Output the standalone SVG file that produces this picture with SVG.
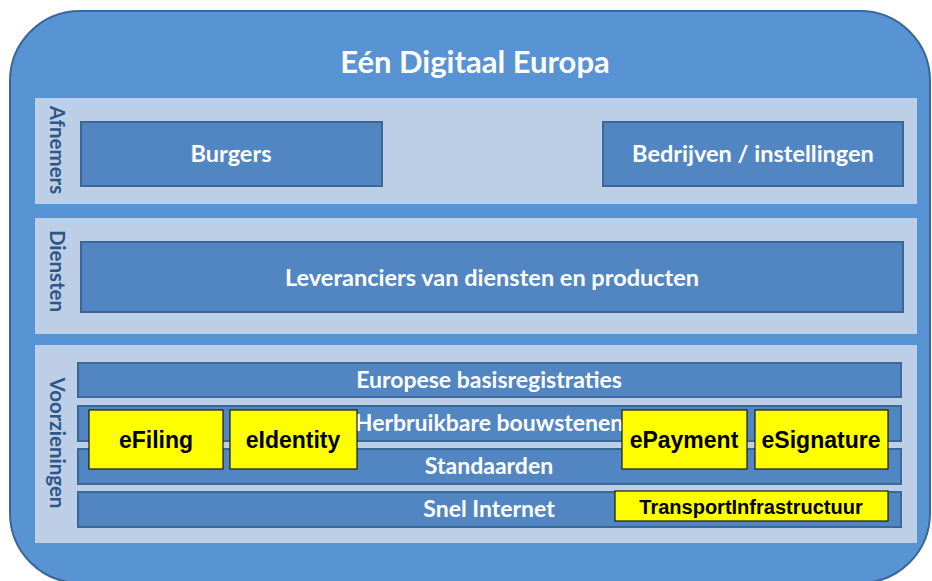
<svg xmlns="http://www.w3.org/2000/svg" width="932" height="581" viewBox="0 0 932 581">
<style>
.band{fill:#bccfe7;}
.box{fill:#5286c2;stroke:#3b6797;stroke-width:2;}
.wt{font-family:Lato,"Open Sans",sans-serif;font-weight:bold;fill:#ffffff;text-anchor:middle;}
.side{font-family:Lato,"Open Sans",sans-serif;font-weight:bold;fill:#2e5686;font-size:20.5px;text-anchor:middle;}
.yb{fill:#ffff00;stroke:#1a1a1a;stroke-width:1.2;}
.yt{font-family:"Liberation Sans",Arial,sans-serif;font-weight:bold;fill:#000;text-anchor:middle;}
</style>
<rect width="932" height="581" fill="#ffffff"/>
<g id="outer">
<rect x="10" y="11" width="920" height="572" rx="70" ry="70" fill="#5893d4" stroke="#3b6797" stroke-width="2"/>
<text class="wt" x="475" y="73" font-size="31">Eén Digitaal Europa</text>
</g>
<g id="afnemers">
<rect class="band" x="35" y="98" width="882" height="106"/>
<text class="side" transform="translate(50,150) rotate(90)">Afnemers</text>
</g>
<g id="burgers">
<rect class="box" x="81" y="122" width="301" height="64"/>
<text class="wt" x="231" y="162" font-size="23.5">Burgers</text>
</g>
<g id="bedrijven">
<rect class="box" x="603" y="122" width="300" height="64"/>
<text class="wt" x="753" y="162" font-size="23.5">Bedrijven / instellingen</text>
</g>
<g id="diensten">
<rect class="band" x="35" y="218" width="882" height="116"/>
<text class="side" transform="translate(50,271) rotate(90)">Diensten</text>
</g>
<g id="leveranciers">
<rect class="box" x="81" y="242" width="822" height="70"/>
<text class="wt" x="492" y="286" font-size="23.5">Leveranciers van diensten en producten</text>
</g>
<g id="voorzieningen">
<rect class="band" x="35" y="345" width="882" height="198"/>
<text class="side" transform="translate(50,443) rotate(90)">Voorzieningen</text>
</g>
<g id="europese">
<rect class="box" x="78" y="363" width="823" height="34"/>
<text class="wt" x="489" y="388" font-size="23">Europese basisregistraties</text>
</g>
<g id="herbruikbaar">
<rect class="box" x="78" y="406" width="823" height="35"/>
<text class="wt" x="489" y="431" font-size="23">Herbruikbare bouwstenen</text>
</g>
<g id="standaarden">
<rect class="box" x="78" y="449" width="823" height="35"/>
<text class="wt" x="489" y="474" font-size="23">Standaarden</text>
</g>
<g id="internet">
<rect class="box" x="78" y="492" width="823" height="35"/>
<text class="wt" x="489" y="517" font-size="23">Snel Internet</text>
</g>
<g id="efiling">
<rect class="yb" x="89" y="410" width="134" height="59"/>
<text class="yt" x="156" y="448" font-size="23">eFiling</text>
</g>
<g id="eidentity">
<rect class="yb" x="230" y="410" width="127" height="59"/>
<text class="yt" x="293" y="448" font-size="23">eIdentity</text>
</g>
<g id="epayment">
<rect class="yb" x="622" y="410" width="125" height="59"/>
<text class="yt" x="684" y="448" font-size="23">ePayment</text>
</g>
<g id="esignature">
<rect class="yb" x="755" y="410" width="133" height="59"/>
<text class="yt" x="821" y="448" font-size="23">eSignature</text>
</g>
<g id="transport">
<rect class="yb" x="615" y="491" width="273" height="30"/>
<text class="yt" x="751" y="514" font-size="20">TransportInfrastructuur</text>
</g>
<g id="connectors"></g>
</svg>
